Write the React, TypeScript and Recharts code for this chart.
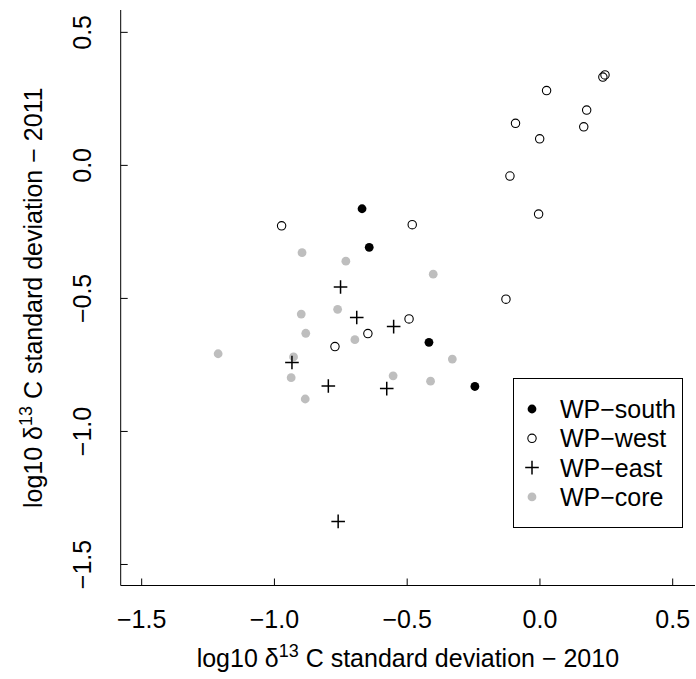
import React from 'react';
import { ScatterChart, Scatter, XAxis, YAxis, Legend, Label } from 'recharts';

const wpSouth = [
  { x: -0.670, y: -0.163 },
  { x: -0.643, y: -0.308 },
  { x: -0.418, y: -0.665 },
  { x: -0.245, y: -0.831 },
];

const wpWest = [
  { x: 0.245, y: 0.340 },
  { x: 0.237, y: 0.332 },
  { x: 0.025, y: 0.281 },
  { x: 0.176, y: 0.208 },
  { x: -0.092, y: 0.158 },
  { x: 0.165, y: 0.145 },
  { x: -0.001, y: 0.100 },
  { x: -0.113, y: -0.040 },
  { x: -0.005, y: -0.183 },
  { x: -0.128, y: -0.503 },
  { x: -0.973, y: -0.227 },
  { x: -0.481, y: -0.223 },
  { x: -0.493, y: -0.577 },
  { x: -0.648, y: -0.632 },
  { x: -0.772, y: -0.681 },
];

const wpEast = [
  { x: -0.751, y: -0.457 },
  { x: -0.690, y: -0.572 },
  { x: -0.551, y: -0.606 },
  { x: -0.934, y: -0.741 },
  { x: -0.797, y: -0.829 },
  { x: -0.577, y: -0.839 },
  { x: -0.760, y: -1.338 },
];

const wpCore = [
  { x: -0.896, y: -0.328 },
  { x: -0.731, y: -0.360 },
  { x: -0.402, y: -0.409 },
  { x: -0.762, y: -0.541 },
  { x: -0.899, y: -0.559 },
  { x: -0.882, y: -0.631 },
  { x: -0.697, y: -0.655 },
  { x: -0.928, y: -0.720 },
  { x: -0.937, y: -0.798 },
  { x: -0.553, y: -0.791 },
  { x: -0.330, y: -0.728 },
  { x: -0.412, y: -0.811 },
  { x: -0.884, y: -0.878 },
  { x: -1.212, y: -0.708 },
];

const xTicks = [-1.5, -1.0, -0.5, 0.0, 0.5];
const yTicks = [-1.5, -1.0, -0.5, 0.0, 0.5];
const seriesNames = ['WP\u2212south', 'WP\u2212west', 'WP\u2212east', 'WP\u2212core'];

const FONT = '"Liberation Sans", Arial, sans-serif';
const GREY = '#BEBEBE';

const fmt = (v: number) => v.toFixed(1).replace('-', '\u2212');

const XTick = (props: any) => {
  const { x, y, payload } = props;
  return (
    <g>
      <line x1={x} x2={x} y1={y} y2={y - 7} stroke="#000" strokeWidth={1} />
      <text x={x} y={y + 42.5} textAnchor="middle" fontFamily={FONT} fontSize={25} fill="#000">
        {fmt(payload.value)}
      </text>
    </g>
  );
};

const YTick = (props: any) => {
  const { x, y, payload } = props;
  const tx = x - 30;
  return (
    <g>
      <line x1={x} x2={x + 7} y1={y} y2={y} stroke="#000" strokeWidth={1} />
      <text x={tx} y={y} transform={`rotate(-90, ${tx}, ${y})`} textAnchor="middle" fontFamily={FONT} fontSize={25} fill="#000">
        {fmt(payload.value)}
      </text>
    </g>
  );
};

const XTitle = (props: any) => {
  const vb = props.viewBox;
  const cx = vb.x + vb.width / 2;
  const cy = vb.y + 81.5;
  return (
    <text x={cx} y={cy} textAnchor="middle" fontFamily={FONT} fontSize={25} fill="#000">
      log10 δ<tspan dy={-10} fontSize={18}>13</tspan>
      <tspan dy={10}> C standard deviation {'\u2212'} 2010</tspan>
    </text>
  );
};

const YTitle = (props: any) => {
  const vb = props.viewBox;
  const cx = vb.x + 21;
  const cy = vb.y + vb.height / 2;
  return (
    <text x={cx} y={cy} transform={`rotate(-90, ${cx}, ${cy})`} textAnchor="middle" fontFamily={FONT} fontSize={25} fill="#000">
      log10 δ<tspan dy={-10} fontSize={18}>13</tspan>
      <tspan dy={10}> C standard deviation {'\u2212'} 2011</tspan>
    </text>
  );
};

const SouthShape = (p: any) => <circle cx={p.cx} cy={p.cy} r={4.4} fill="#000" />;
const WestShape = (p: any) => (
  <circle cx={p.cx} cy={p.cy} r={4.2} fill="none" stroke="#000" strokeWidth={1.1} />
);
const EastShape = (p: any) => (
  <path
    d={`M${p.cx - 6.8},${p.cy}H${p.cx + 6.8}M${p.cx},${p.cy - 6.8}V${p.cy + 6.8}`}
    stroke="#000"
    strokeWidth={1.5}
    fill="none"
  />
);
const CoreShape = (p: any) => <circle cx={p.cx} cy={p.cy} r={4.4} fill={GREY} />;

const markerFor = (i: number, cx: number, cy: number) => {
  if (i === 0) return <SouthShape cx={cx} cy={cy} />;
  if (i === 1) return <WestShape cx={cx} cy={cy} />;
  if (i === 2) return <EastShape cx={cx} cy={cy} />;
  return <CoreShape cx={cx} cy={cy} />;
};

const renderLegend = () => (
  <svg width={171} height={151} style={{ display: 'block' }}>
    <rect x={0.5} y={0.5} width={169} height={149} fill="#fff" stroke="#000" strokeWidth={1} />
    {seriesNames.map((n, i) => {
      const cy = 31 + i * 29.3;
      return (
        <g key={n}>
          {markerFor(i, 19, cy)}
          <text x={47} y={cy + 9} fontFamily={FONT} fontSize={25} fill="#000">
            {n}
          </text>
        </g>
      );
    })}
  </svg>
);

export default function App() {
  return (
    <div style={{ position: 'absolute', left: 0, top: 0, background: '#fff' }}>
      <ScatterChart width={696} height={679} margin={{ top: 10, right: 1, bottom: 33.5, left: 20.7 }}>
        <XAxis
          type="number"
          dataKey="x"
          domain={[-1.579, 0.584]}
          ticks={xTicks}
          interval={0}
          allowDataOverflow
          height={60}
          tick={<XTick />}
          tickLine={false}
          tickSize={0}
          tickMargin={0}
          axisLine={{ stroke: '#000', strokeWidth: 1 }}
        >
          <Label content={XTitle} />
        </XAxis>
        <YAxis
          type="number"
          dataKey="y"
          domain={[-1.579, 0.584]}
          ticks={yTicks}
          interval={0}
          allowDataOverflow
          width={100}
          tick={<YTick />}
          tickLine={false}
          tickSize={0}
          tickMargin={0}
          axisLine={{ stroke: '#000', strokeWidth: 1 }}
        >
          <Label content={YTitle} />
        </YAxis>
        <Scatter name={seriesNames[3]} data={wpCore} shape={CoreShape} isAnimationActive={false} />
        <Scatter name={seriesNames[1]} data={wpWest} shape={WestShape} isAnimationActive={false} />
        <Scatter name={seriesNames[0]} data={wpSouth} shape={SouthShape} isAnimationActive={false} />
        <Scatter name={seriesNames[2]} data={wpEast} shape={EastShape} isAnimationActive={false} />
        <Legend
          layout="horizontal"
          verticalAlign="middle"
          align="center"
          content={renderLegend}
          wrapperStyle={{ position: 'absolute', left: 513, top: 378, width: 171, height: 151, bottom: 'auto' }}
        />
      </ScatterChart>
    </div>
  );
}
